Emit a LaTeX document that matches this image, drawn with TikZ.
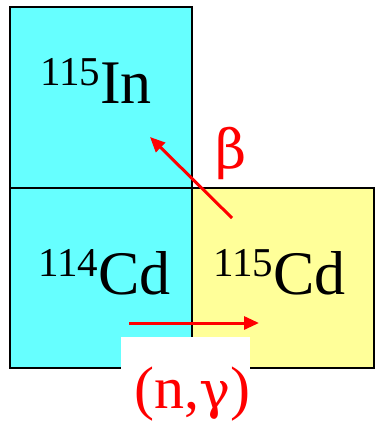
\documentclass[tikz,border=0pt]{standalone}
\usepackage{fontspec}
\setmainfont{Liberation Serif}
\newfontfamily\greekfont{DejaVu Serif}
\usetikzlibrary{arrows.meta}
\definecolor{cyanbox}{HTML}{66FFFF}
\definecolor{yellowbox}{HTML}{FFFF99}
\newcommand{\isot}[2]{{\fontsize{41}{41}\selectfont\raisebox{18pt}{#1}}{\fontsize{62}{62}\selectfont #2}}
\begin{document}
\begin{tikzpicture}[x=1pt,y=-1pt,
  nuclide/.style={draw=black,line width=2pt,minimum width=182pt,minimum height=180.5pt,inner sep=0pt,anchor=north west},
  label/.style={inner sep=0pt,anchor=base west},
  reac/.style={red,line width=3pt,-{Triangle[length=15pt,width=13pt]}},
  redtxt/.style={red,inner sep=0pt,anchor=base west,font=\fontsize{60}{60}\selectfont}]
\useasboundingbox (0,0) rectangle (376,426);
\node[nuclide,fill=cyanbox] (in) at (9,6) {};
\node[nuclide,fill=cyanbox] (cd114) at (9,186.5) {};
\node[nuclide,fill=yellowbox] (cd115) at (190.5,186.5) {};
\node[label] (tin) at (40,103) {\isot{115}{In}};
\node[label] (tcd114) at (38,294) {\isot{114}{Cd}};
\node[label] (tcd115) at (213,294) {\isot{115}{Cd}};
\fill[white] (121,337) rectangle (250,426);
\coordinate (b0) at (232,218);
\coordinate (b1) at (150,137);
\coordinate (n0) at (129,323);
\coordinate (n1) at (259,323);
\draw[reac] (b0) -- (b1);
\draw[reac] (n0) -- (n1);
\node[redtxt] (beta) at (215,168) {{\greekfont\fontsize{54}{54}\selectfont β}};
\node[redtxt] (ng) at (134,408) {(n,{\greekfont\fontsize{52}{52}\selectfont γ})};
\end{tikzpicture}
\end{document}
